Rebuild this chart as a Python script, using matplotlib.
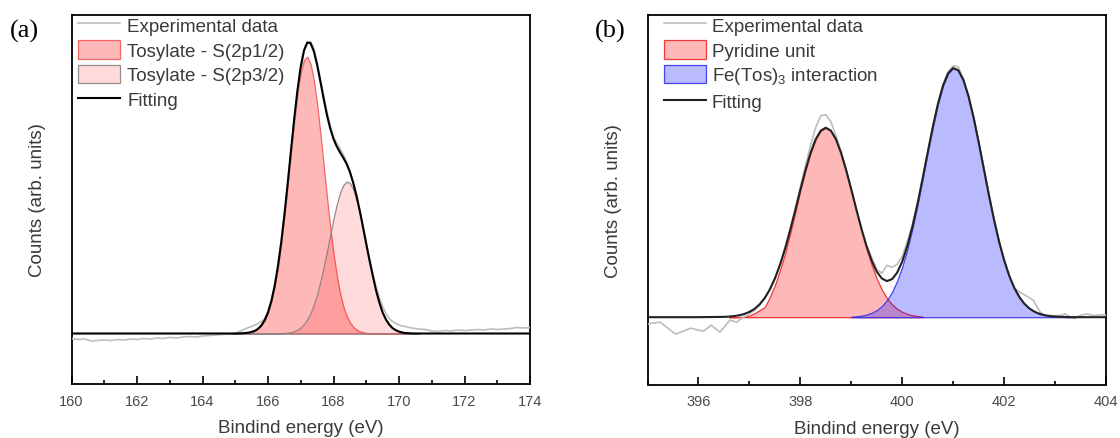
import matplotlib
matplotlib.use("Agg")
import matplotlib.pyplot as plt
import numpy as np

plt.rcParams['font.family'] = ['Liberation Sans', 'DejaVu Sans']
plt.rcParams['mathtext.fontset'] = 'custom'
plt.rcParams['mathtext.rm'] = 'Liberation Sans'
plt.rcParams['mathtext.it'] = 'Liberation Sans:italic'
plt.rcParams['mathtext.default'] = 'regular'

# ---------------- Panel (a): S 2p ----------------
a_x_comp = [164.6, 164.8, 165.0, 165.2, 165.4, 165.5, 165.6, 165.7, 165.8, 165.9,
            166.0, 166.1, 166.2, 166.3, 166.4, 166.5, 166.6, 166.7, 166.8, 166.9,
            167.0, 167.1, 167.2, 167.3, 167.4, 167.5, 167.6, 167.7, 167.8, 167.9,
            168.0, 168.1, 168.2, 168.3, 168.4, 168.5, 168.6, 168.7, 168.8, 168.9,
            169.0, 169.1, 169.2, 169.3, 169.4, 169.5, 169.6, 169.7, 169.8, 169.9,
            170.0, 170.1, 170.2, 170.4, 170.6]
a_s2p12 = [0.0, 0.0, 0.0, 0.2, 0.8, 1.5, 2.7, 4.8, 8.2, 13.4,
           21.1, 32.0, 46.9, 66.2, 89.9, 117.8, 148.7, 180.9, 212.1, 239.6,
           260.9, 273.7, 276.8, 269.7, 253.3, 229.3, 199.9, 168.0, 136.1, 106.2,
           79.9, 57.9, 40.4, 27.2, 17.7, 11.1, 6.6, 3.9, 2.2, 1.2,
           0.6, 0.3, 0.1, 0.0, 0.0, 0.0, 0.0, 0.0, 0.0, 0.0,
           0.0, 0.0, 0.0, 0.0, 0.0]
a_s2p32 = [0.0, 0.0, 0.0, 0.0, 0.0, 0.0, 0.0, 0.0, 0.0, 0.0,
           0.0, 0.0, 0.1, 0.2, 0.2, 0.4, 0.8, 1.4, 2.3, 3.8,
           6.1, 9.5, 14.2, 20.6, 28.9, 39.4, 52.0, 66.5, 82.3, 98.8,
           114.7, 129.1, 140.7, 148.5, 151.9, 150.5, 144.3, 134.1, 120.8, 105.3,
           88.9, 72.7, 57.6, 43.0, 31.0, 21.0, 14.0, 9.0, 5.5, 3.3,
           1.9, 1.0, 0.5, 0.1, 0.0]
a_fit_x = [160.0, 164.6, 164.8, 165.0, 165.2, 165.4, 165.5, 165.6, 165.7, 165.8, 165.9,
           166.0, 166.1, 166.2, 166.3, 166.4, 166.5, 166.6, 166.7, 166.8, 166.9,
           167.0, 167.1, 167.2, 167.3, 167.4, 167.5, 167.6, 167.7, 167.8, 167.9,
           168.0, 168.1, 168.2, 168.3, 168.4, 168.5, 168.6, 168.7, 168.8, 168.9,
           169.0, 169.1, 169.2, 169.3, 169.4, 169.5, 169.6, 169.7, 169.8, 169.9,
           170.0, 170.1, 170.2, 170.4, 170.6, 174.0]
a_fit = [0.0, 0.0, 0.0, 0.0, 0.2, 0.8, 1.5, 2.7, 4.8, 8.2, 13.4,
         21.1, 32.0, 47.0, 66.3, 90.1, 118.2, 149.5, 182.3, 214.4, 243.4,
         267.0, 283.2, 291.0, 290.3, 282.2, 268.7, 251.9, 234.5, 218.4, 205.0,
         194.6, 187.0, 181.1, 175.7, 169.6, 161.6, 150.9, 138.0, 123.0, 106.5,
         89.5, 73.0, 57.7, 43.0, 31.0, 21.0, 14.0, 9.0, 5.5, 3.3,
         1.9, 1.0, 0.5, 0.1, 0.0, 0.0]
a_exp_x = [160.0, 160.2, 160.4, 160.6, 160.8, 161.0, 161.2, 161.4, 161.6, 161.8,
           162.0, 162.2, 162.4, 162.6, 162.8, 163.0, 163.2, 163.4, 163.6, 163.8,
           164.0, 164.2, 164.4, 164.6, 164.8, 165.0, 165.1, 165.2, 165.3, 165.4,
           165.5, 165.6, 165.7, 165.8, 165.9, 166.0, 166.1, 166.2, 166.3, 166.4,
           166.5, 166.6, 166.7, 166.8, 166.9, 167.0, 167.1, 167.2, 167.3, 167.4,
           167.5, 167.6, 167.7, 167.8, 167.9, 168.0, 168.1, 168.2, 168.3, 168.4,
           168.5, 168.6, 168.7, 168.8, 168.9, 169.0, 169.1, 169.2, 169.3, 169.4,
           169.5, 169.6, 169.7, 169.8, 169.9, 170.0, 170.1, 170.2, 170.3, 170.4,
           170.6, 170.8, 171.0, 171.2, 171.4, 171.6, 171.8, 172.0, 172.2, 172.4,
           172.6, 172.8, 173.0, 173.2, 173.4, 173.6, 173.8, 174.0]
a_exp = [-5.0, -6.0, -5.5, -7.5, -7.0, -6.5, -7.0, -6.0, -6.5, -5.5,
         -6.0, -5.0, -5.5, -4.5, -5.0, -4.0, -4.5, -3.5, -3.0, -3.5,
         -2.5, -2.0, -1.5, -1.0, -0.5, 0.5, 1.5, 3.0, 4.5, 6.0,
         7.0, 8.5, 10.0, 12.0, 15.0, 22.0, 33.0, 48.0, 68.0, 92.0,
         120.0, 150.0, 182.0, 213.0, 241.0, 265.0, 282.0, 291.0, 292.0, 285.0,
         271.0, 255.0, 238.0, 222.0, 208.0, 197.0, 190.0, 185.0, 179.0, 172.0,
         163.0, 152.0, 139.0, 124.0, 108.0, 91.0, 75.0, 60.0, 47.0, 36.0,
         27.0, 20.0, 15.0, 12.0, 10.0, 8.5, 7.5, 7.0, 6.0, 5.5,
         4.5, 4.0, 2.5, 2.0, 3.0, 2.5, 3.5, 3.0, 3.5, 4.0,
         3.5, 4.5, 4.0, 4.5, 5.0, 6.0, 5.5, 6.0]

# ---------------- Panel (b): N 1s ----------------
b_x_red = [396.6, 396.7, 396.8, 396.9, 397.0, 397.1, 397.2, 397.3, 397.4, 397.5,
           397.6, 397.7, 397.8, 397.9, 398.0, 398.1, 398.2, 398.3, 398.4, 398.5,
           398.6, 398.7, 398.8, 398.9, 399.0, 399.1, 399.2, 399.3, 399.4, 399.5,
           399.6, 399.7, 399.8, 399.9, 400.0, 400.1, 400.2, 400.3, 400.4]
b_pyridine = [0.0, 0.0, 0.2, 0.5, 1.5, 4.0, 7.0, 10.0, 20.0, 32.0,
              47.0, 64.0, 84.0, 105.0, 127.5, 147.2, 164.6, 178.3, 187.0, 190.0,
              187.0, 178.3, 164.6, 147.2, 127.5, 107.0, 87.0, 68.5, 52.3, 38.6,
              27.6, 19.1, 12.8, 8.3, 5.3, 3.2, 1.9, 1.1, 0.6]
b_x_blue = [399.0, 399.1, 399.2, 399.3, 399.4, 399.5, 399.6, 399.7, 399.8, 399.9,
            400.0, 400.1, 400.2, 400.3, 400.4, 400.5, 400.6, 400.7, 400.8, 400.9,
            401.0, 401.1, 401.2, 401.3, 401.4, 401.5, 401.6, 401.7, 401.8, 401.9,
            402.0, 402.1, 402.2, 402.3, 402.4, 402.5, 402.6, 402.7, 402.8, 402.9,
            403.0, 403.2, 403.4]
b_fetos = [0.5, 0.9, 1.5, 2.6, 4.4, 7.1, 11.2, 17.1, 25.3, 36.3,
           50.4, 68.0, 88.8, 112.5, 138.3, 164.9, 190.6, 213.6, 232.1, 244.5,
           249.8, 247.6, 237.9, 221.6, 200.2, 175.4, 149.0, 122.7, 98.0, 75.9,
           57.0, 41.5, 29.3, 20.1, 13.3, 8.6, 5.4, 3.3, 1.9, 1.1,
           0.6, 0.2, 0.0]
b_fit_x = [395.0, 396.0, 396.5, 396.6, 396.7, 396.8, 396.9, 397.0, 397.1, 397.2,
           397.3, 397.4, 397.5, 397.6, 397.7, 397.8, 397.9, 398.0, 398.1, 398.2,
           398.3, 398.4, 398.5, 398.6, 398.7, 398.8, 398.9, 399.0, 399.1, 399.2,
           399.3, 399.4, 399.5, 399.6, 399.7, 399.8, 399.9, 400.0, 400.1, 400.2,
           400.3, 400.4, 400.5, 400.6, 400.7, 400.8, 400.9, 401.0, 401.1, 401.2,
           401.3, 401.4, 401.5, 401.6, 401.7, 401.8, 401.9, 402.0, 402.1, 402.2,
           402.3, 402.4, 402.5, 402.6, 402.7, 402.8, 402.9, 403.0, 403.2, 403.4,
           404.0]
b_fit = [0.0, 0.0, 0.3, 0.6, 1.1, 1.9, 3.2, 5.3, 8.3, 12.8,
         19.1, 27.6, 38.6, 52.3, 68.5, 87.0, 107.0, 127.5, 147.2, 164.6,
         178.3, 187.0, 190.0, 187.0, 178.3, 164.6, 147.2, 128.0, 107.9, 88.5,
         71.1, 56.7, 45.7, 38.8, 36.2, 38.1, 44.6, 55.7, 71.2, 90.7,
         113.6, 138.9, 165.2, 190.6, 213.6, 232.1, 244.5, 249.8, 247.6, 237.9,
         221.6, 200.2, 175.4, 149.0, 122.7, 98.0, 75.9, 57.0, 41.5, 29.3,
         20.1, 13.3, 8.6, 5.4, 3.3, 1.9, 1.1, 0.6, 0.2, 0.0,
         0.0]
b_exp_x = [395.0, 395.1, 395.25, 395.4, 395.55, 395.7, 395.85, 396.0, 396.1, 396.25,
           396.42, 396.52, 396.62, 396.75, 396.88, 397.0, 397.1, 397.2, 397.3, 397.4,
           397.5, 397.6, 397.7, 397.8, 397.9, 398.0, 398.1, 398.2, 398.3, 398.4,
           398.5, 398.6, 398.7, 398.8, 398.9, 399.0, 399.1, 399.2, 399.3, 399.4,
           399.5, 399.6, 399.7, 399.8, 399.9, 400.0, 400.1, 400.2, 400.3, 400.4,
           400.5, 400.6, 400.7, 400.8, 400.9, 401.0, 401.1, 401.2, 401.3, 401.4,
           401.5, 401.6, 401.7, 401.8, 401.9, 402.0, 402.1, 402.19, 402.28, 402.38,
           402.48, 402.58, 402.65, 402.71, 402.8, 402.95, 403.1, 403.2, 403.33, 403.45,
           403.62, 403.75, 403.9, 404.0]
b_exp = [-7.0, -6.0, -5.0, -11.0, -17.0, -14.0, -11.0, -13.0, -14.0, -8.0,
         -15.0, -9.0, -3.0, -5.0, 0.0, 3.0, 7.0, 12.0, 19.0, 28.0,
         39.0, 53.0, 70.0, 89.0, 109.0, 131.0, 152.0, 172.0, 190.0, 202.0,
         203.0, 196.0, 182.0, 166.0, 148.0, 128.0, 108.0, 89.0, 72.0, 60.0,
         48.0, 44.0, 52.0, 50.0, 53.0, 61.0, 76.0, 93.0, 114.0, 139.0,
         165.0, 191.0, 214.0, 233.0, 246.0, 252.0, 251.0, 239.0, 222.0, 200.0,
         175.0, 149.0, 123.0, 99.0, 77.0, 58.0, 42.0, 30.0, 26.0, 23.0,
         20.0, 16.6, 10.0, 5.0, 1.6, 1.5, 1.6, 3.3, -1.0, 1.0,
         3.3, 1.6, 2.5, 2.0]

# ---------------- Figure ----------------
W, H = 1120, 439
fig = plt.figure(figsize=(W / 100, H / 100), dpi=100)

def px_axes(l, r, t, b):
    return fig.add_axes([l / W, 1 - b / H, (r - l) / W, (b - t) / H])

ax1 = px_axes(71.5, 530, 16, 385)
ax2 = px_axes(647.5, 1106, 16, 385.5)

gray = '#bdbdbd'
lab_col = '#3a3a3a'
tick_col = '#4a4a4a'

# (a)
ax1.plot(a_exp_x, a_exp, color=gray, lw=1.2, label='Experimental data', zorder=3)
ax1.fill_between(a_x_comp, 0, a_s2p12, facecolor=(1, 0, 0, 0.28),
                 edgecolor=(0.95, 0.35, 0.35, 0.9), lw=0.9,
                 label='Tosylate - S(2p1/2)', zorder=2)
ax1.fill_between(a_x_comp, 0, a_s2p32, facecolor=(1, 0, 0, 0.14),
                 edgecolor=(0.55, 0.5, 0.5, 0.9), lw=0.9,
                 label='Tosylate - S(2p3/2)', zorder=2)
ax1.plot(a_fit_x, a_fit, color='black', lw=1.5, label='Fitting', zorder=4)
ax1.set_xlim(160, 174)
ax1.set_ylim(-50.5, 318.5)

# (b)
ax2.plot(b_exp_x, b_exp, color=gray, lw=1.2, label='Experimental data', zorder=3)
ax2.fill_between(b_x_red, 0, b_pyridine, facecolor=(1, 0, 0, 0.28),
                 edgecolor=(0.95, 0.15, 0.15, 0.9), lw=0.9,
                 label='Pyridine unit', zorder=2)
ax2.fill_between(b_x_blue, 0, b_fetos, facecolor=(0, 0, 1, 0.27),
                 edgecolor=(0.2, 0.2, 0.95, 0.9), lw=0.9,
                 label='Fe(Tos)$_3$ interaction', zorder=2)
ax2.plot(b_fit_x, b_fit, color='#222222', lw=1.5, label='Fitting', zorder=4)
ax2.set_xlim(395, 404)
ax2.set_ylim(-67.5, 303)

for ax, major in ((ax1, [160, 162, 164, 166, 168, 170, 172, 174]),
                  (ax2, [396, 398, 400, 402, 404])):
    ax.set_xticks(major)
    ax.set_xticks(np.arange(ax.get_xlim()[0], ax.get_xlim()[1] + 0.01, 1.0), minor=True)
    ax.set_yticks([])
    ax.tick_params(axis='x', which='major', direction='in', length=6, width=1.2,
                   labelsize=10.5, labelcolor=tick_col, pad=7, top=False)
    ax.tick_params(axis='x', which='minor', direction='in', length=3.2, width=1.2, top=False)
    for s in ax.spines.values():
        s.set_linewidth(1.3)
        s.set_color('black')
    ax.set_xlabel('Bindind energy (eV)', fontsize=13.5, color=lab_col)
    ax.set_ylabel('Counts (arb. units)', fontsize=13.5, color=lab_col)
    ax.xaxis.set_label_coords(0.5, -0.095)
    ax.yaxis.set_label_coords(-0.055, 0.5)

leg_kw = dict(loc='upper left', frameon=False, fontsize=13.5, borderpad=0,
              borderaxespad=0, handlelength=2.25, handleheight=1.15,
              labelspacing=0.28, labelcolor=lab_col)
ax1.legend(bbox_to_anchor=(0.014, 1.0), handletextpad=0.37, **leg_kw)
ax2.legend(bbox_to_anchor=(0.035, 1.0), handletextpad=0.32, **leg_kw)

fig.text(10 / W, 1 - 31 / H, '(a)', fontsize=19, family='Liberation Serif',
         va='center', ha='left', color='black')
fig.text(595 / W, 1 - 31 / H, '(b)', fontsize=19, family='Liberation Serif',
         va='center', ha='left', color='black')

fig.savefig('out.png', dpi=100)
